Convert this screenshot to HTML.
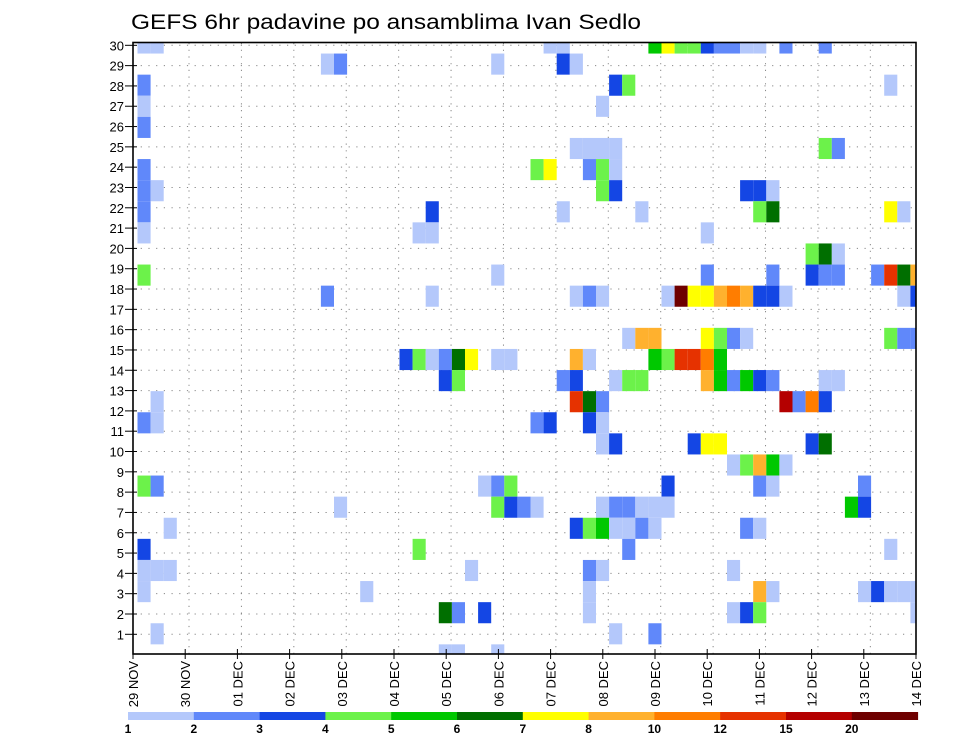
<!DOCTYPE html>
<html><head><meta charset="utf-8">
<style>
html,body{margin:0;padding:0;background:#fff;}
svg{display:block;font-family:"Liberation Sans",sans-serif;}
</style></head>
<body>
<svg id="chart" width="960" height="742" viewBox="0 0 960 742" xmlns="http://www.w3.org/2000/svg">
<text x="131" y="29" font-size="21" fill="#000" textLength="510" lengthAdjust="spacingAndGlyphs">GEFS 6hr padavine po ansamblima Ivan Sedlo</text>
<defs><clipPath id="plotclip"><rect x="133" y="42.5" width="783" height="611.5"/></clipPath></defs>
<g id="grid"></g>
<g id="cellsG" clip-path="url(#plotclip)"></g>
<rect x="133" y="42.5" width="783" height="611.5" fill="none" stroke="#000" stroke-width="1.6"/>
<g id="yaxis"></g>
<g id="xaxis"></g>
<g id="legend"></g>
</svg>
<script>
const levels = [1,2,3,4,5,6,7,8,10,12,15,20];
const levelColors = ["#b4c8fb","#6088fa","#1446e4","#6cf24a","#00c800","#006f00","#ffff00","#ffb12e","#ff7d00","#e63200","#b40000","#6e0000"];
const dayLabels = ["29 NOV","30 NOV","01 DEC","02 DEC","03 DEC","04 DEC","05 DEC","06 DEC","07 DEC","08 DEC","09 DEC","10 DEC","11 DEC","12 DEC","13 DEC","14 DEC"];
const memberLabels = [1,2,3,4,5,6,7,8,9,10,11,12,13,14,15,16,17,18,19,20,21,22,23,24,25,26,27,28,29,30];
// [member row index (0=bottom), 6h step index, precip mm]
const cells = [
[28,0,1.5],[28,1,1.5],[28,31,1.5],[28,32,1.5],[28,39,5.5],[28,40,7.5],[28,41,4.5],[28,42,4.5],[28,43,3.5],[28,44,2.5],[28,45,2.5],[28,46,1.5],[28,47,1.5],[28,49,2.5],[28,52,2.5],
[27,14,1.5],[27,15,2.5],[27,27,1.5],[27,32,3.5],[27,33,1.5],
[26,0,2.5],[26,36,3.5],[26,37,4.5],[26,57,1.5],
[25,0,1.5],[25,35,1.5],
[24,0,2.5],
[23,33,1.5],[23,34,1.5],[23,35,1.5],[23,36,1.5],[23,52,4.5],[23,53,2.5],
[22,0,2.5],[22,30,4.5],[22,31,7.5],[22,34,2.5],[22,35,4.5],[22,36,1.5],
[21,0,2.5],[21,1,1.5],[21,35,4.5],[21,36,3.5],[21,46,3.5],[21,47,3.5],[21,48,1.5],
[20,0,2.5],[20,22,3.5],[20,32,1.5],[20,38,1.5],[20,47,4.5],[20,48,6.5],[20,57,7.5],[20,58,1.5],
[19,0,1.5],[19,21,1.5],[19,22,1.5],[19,43,1.5],
[18,51,4.5],[18,52,6.5],[18,53,1.5],
[17,0,4.5],[17,27,1.5],[17,43,2.5],[17,48,2.5],[17,51,3.5],[17,52,2.5],[17,53,2.5],[17,56,2.5],[17,57,13.5],[17,58,6.5],[17,59,9],
[16,14,2.5],[16,22,1.5],[16,33,1.5],[16,34,2.5],[16,35,1.5],[16,40,1.5],[16,41,25],[16,42,7.5],[16,43,7.5],[16,44,9],[16,45,11],[16,46,9],[16,47,3.5],[16,48,3.5],[16,49,1.5],[16,58,1.5],[16,59,3.5],
[14,37,1.5],[14,38,9],[14,39,9],[14,43,7.5],[14,44,4.5],[14,45,2.5],[14,46,1.5],[14,57,4.5],[14,58,2.5],[14,59,2.5],
[13,20,3.5],[13,21,4.5],[13,22,1.5],[13,23,2.5],[13,24,6.5],[13,25,7.5],[13,27,1.5],[13,28,1.5],[13,33,9],[13,34,1.5],[13,39,5.5],[13,40,4.5],[13,41,13.5],[13,42,13.5],[13,43,11],[13,44,5.5],
[12,23,3.5],[12,24,4.5],[12,32,2.5],[12,33,3.5],[12,36,1.5],[12,37,4.5],[12,38,4.5],[12,43,9],[12,44,5.5],[12,45,2.5],[12,46,5.5],[12,47,3.5],[12,48,2.5],[12,52,1.5],[12,53,1.5],
[11,1,1.5],[11,33,13.5],[11,34,6.5],[11,35,2.5],[11,49,17],[11,50,2.5],[11,51,11],[11,52,3.5],
[10,0,2.5],[10,1,1.5],[10,30,2.5],[10,31,3.5],[10,34,3.5],[10,35,1.5],
[9,35,1.5],[9,36,3.5],[9,42,3.5],[9,43,7.5],[9,44,7.5],[9,51,3.5],[9,52,6.5],
[8,45,1.5],[8,46,4.5],[8,47,9],[8,48,5.5],[8,49,1.5],
[7,0,4.5],[7,1,2.5],[7,26,1.5],[7,27,2.5],[7,28,4.5],[7,40,3.5],[7,47,2.5],[7,48,1.5],[7,55,2.5],
[6,15,1.5],[6,27,4.5],[6,28,3.5],[6,29,2.5],[6,30,1.5],[6,35,1.5],[6,36,2.5],[6,37,2.5],[6,38,1.5],[6,39,1.5],[6,40,1.5],[6,54,5.5],[6,55,3.5],
[5,2,1.5],[5,33,3.5],[5,34,4.5],[5,35,5.5],[5,36,1.5],[5,37,1.5],[5,38,2.5],[5,39,1.5],[5,46,2.5],[5,47,1.5],
[4,0,3.5],[4,21,4.5],[4,37,2.5],[4,57,1.5],
[3,0,1.5],[3,1,1.5],[3,2,1.5],[3,25,1.5],[3,34,2.5],[3,35,1.5],[3,45,1.5],
[2,0,1.5],[2,17,1.5],[2,34,1.5],[2,47,9],[2,48,1.5],[2,55,1.5],[2,56,3.5],[2,57,1.5],[2,58,1.5],[2,59,1.5],
[1,23,6.5],[1,24,2.5],[1,26,3.5],[1,34,1.5],[1,45,1.5],[1,46,3.5],[1,47,4.5],[1,59,1.5],
[0,1,1.5],[0,36,1.5],[0,39,2.5],
[-1,23,1.5],[-1,24,1.5],[-1,27,1.5]
];

const NS = "http://www.w3.org/2000/svg";
function mk(tag, attrs, parent){const e=document.createElementNS(NS,tag);for(const k in attrs)e.setAttribute(k,attrs[k]);parent.appendChild(e);return e;}
// axis functions
const colX = s => 137.5 + 13.1*s;
const colW = 13.1;
const rowY = k => 633.8 - 21.1*k;
const rowH = 21.1;
const labelY = m => 634.3 - (m-1)*20.31;
const dayGridX = d => 136.6 + 52.41*d;
const dayLabelX = d => 133 + 52.2*d;
function colorFor(v){let idx=0;for(let i=0;i<levels.length;i++){if(v>=levels[i])idx=i;}return levelColors[idx];}

const grid=document.getElementById('grid');
memberLabels.forEach(m=>{
  const l=mk('line',{x1:133,x2:916,y1:labelY(m),y2:labelY(m),stroke:'#888','stroke-width':1,'stroke-dasharray':'1.2,6.5'},grid);
  
  
});
for(let d=1;d<dayLabels.length-1;d++){
  const l=mk('line',{x1:dayGridX(d),x2:dayGridX(d),y1:43,y2:654,stroke:'#888','stroke-width':1,'stroke-dasharray':'1.2,5.5'},grid);
  
  
}

const cg=document.getElementById('cellsG');
cells.forEach(c=>{
  const r=mk('rect',{x:colX(c[1]),y:rowY(c[0])-rowH/2,width:colW,height:rowH,fill:colorFor(c[2])},cg);
  
  
});

const ya=document.getElementById('yaxis');
memberLabels.forEach(m=>{
  const y=labelY(m);
  const t=mk('line',{x1:125,x2:137,y1:y,y2:y,stroke:'#000','stroke-width':1},ya);
  
  
  const tx=mk('text',{x:124,y:y+5,'font-size':13,'text-anchor':'end',fill:'#000'},ya);
  tx.textContent=m;
  
  
});

const xa=document.getElementById('xaxis');
dayLabels.forEach((lab,d)=>{
  const x=dayLabelX(d);
  const t=mk('line',{x1:x,x2:x,y1:649,y2:659,stroke:'#000','stroke-width':1},xa);
  
  
  const tx=mk('text',{transform:`translate(${x+5},661) rotate(-90)`,'font-size':13,'text-anchor':'end',fill:'#000'},xa);
  tx.textContent=lab;
  
  
});

const lg=document.getElementById('legend');
const lx0=128, lw=65.8;
levels.forEach((lv,i)=>{
  const r=mk('rect',{x:lx0+i*lw,y:712,width:lw+0.5,height:8,fill:levelColors[i]},lg);
  
  
  const t=mk('text',{x:lx0+i*lw,y:733,'font-size':12,'font-weight':'bold','text-anchor':'middle',fill:'#000'},lg);
  t.textContent=lv;
  
  
});
</script>
</body></html>
